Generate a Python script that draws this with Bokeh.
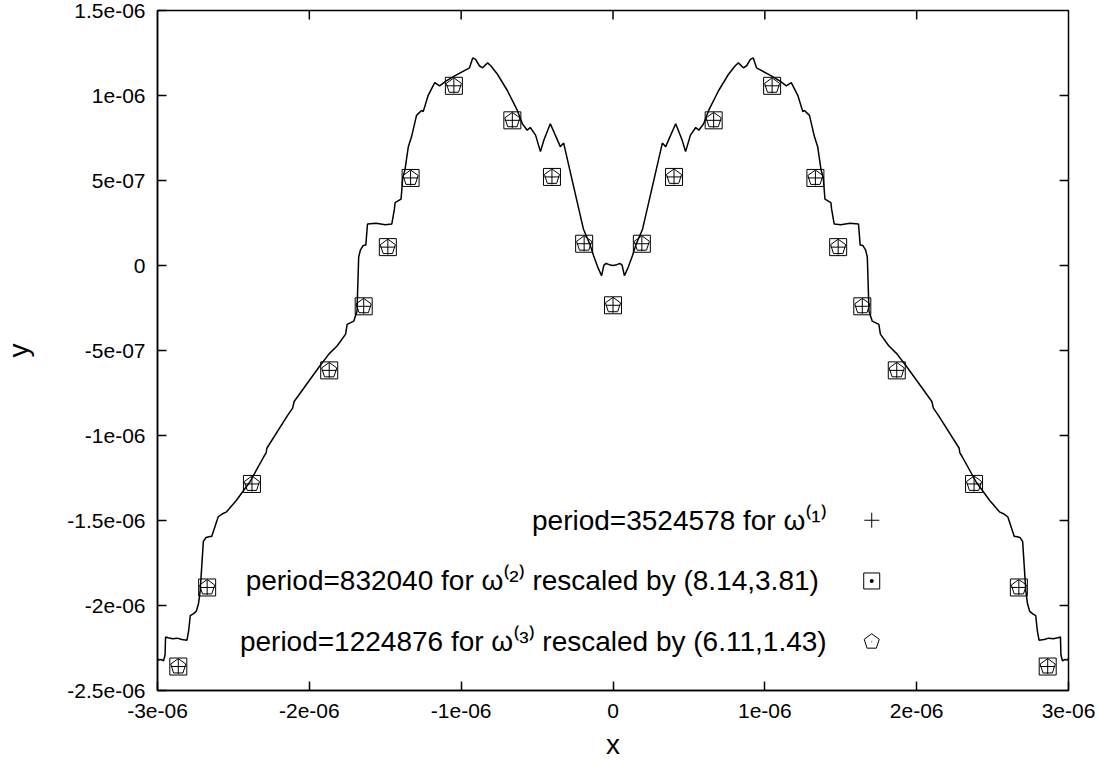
import numpy as np
from bokeh.plotting import figure
from bokeh.models import Range1d, FixedTicker, Label
from bokeh.embed import file_html
from bokeh.resources import INLINE

UNIT = 1e-6  # data below are given in units of 1e-6

# dense curve: period=3524578 for omega(1)
curve_x = [
    -3.000, -2.994, -2.975, -2.960, -2.950, -2.947, -2.930, -2.900, -2.870, -2.840,
    -2.806, -2.795, -2.784, -2.765, -2.745, -2.730, -2.719, -2.705, -2.698, -2.680,
    -2.655, -2.643, -2.625, -2.600, -2.575, -2.545, -2.480, -2.393, -2.300, -2.284,
    -2.280, -2.142, -2.110, -2.100, -1.936, -1.870, -1.816, -1.761, -1.751, -1.707,
    -1.686, -1.675, -1.664, -1.645, -1.628, -1.617, -1.560, -1.500, -1.457, -1.440,
    -1.435, -1.396, -1.385, -1.370, -1.348, -1.327, -1.294, -1.261, -1.250, -1.218,
    -1.174, -1.142, -1.098, -1.043, -0.945, -0.924, -0.905, -0.880, -0.859, -0.826,
    -0.805, -0.761, -0.695, -0.630, -0.597, -0.565, -0.545, -0.510, -0.478, -0.455,
    -0.413, -0.380, -0.347, -0.325, -0.260, -0.195, -0.150, -0.129, -0.097, -0.075,
    -0.060, -0.045, -0.025, 0.000,
    0.025, 0.045, 0.060, 0.075, 0.097, 0.129, 0.150, 0.195, 0.260, 0.325,
    0.347, 0.380, 0.413, 0.455, 0.478, 0.510, 0.545, 0.565, 0.597, 0.630,
    0.695, 0.761, 0.805, 0.826, 0.859, 0.880, 0.905, 0.924, 0.945, 1.043,
    1.098, 1.142, 1.174, 1.218, 1.250, 1.261, 1.294, 1.327, 1.348, 1.370,
    1.385, 1.396, 1.435, 1.440, 1.457, 1.500, 1.560, 1.617, 1.628, 1.645,
    1.664, 1.675, 1.686, 1.707, 1.751, 1.761, 1.816, 1.870, 1.936, 2.100,
    2.110, 2.142, 2.280, 2.284, 2.300, 2.393, 2.480, 2.545, 2.575, 2.600,
    2.625, 2.643, 2.655, 2.680, 2.698, 2.705, 2.719, 2.730, 2.745, 2.765,
    2.784, 2.795, 2.806, 2.840, 2.870, 2.900, 2.930, 2.947, 2.950, 2.960,
    2.975, 2.994, 3.000,
]
curve_y = [
    -2.310, -2.320, -2.318, -2.325, -2.290, -2.185, -2.190, -2.196, -2.192, -2.200,
    -2.204, -2.150, -2.059, -2.049, -2.035, -1.990, -1.914, -1.720, -1.623, -1.600,
    -1.594, -1.594, -1.545, -1.478, -1.462, -1.449, -1.381, -1.275, -1.125, -1.101,
    -1.075, -0.880, -0.839, -0.800, -0.597, -0.520, -0.472, -0.404, -0.346, -0.327,
    -0.269, 0.050, 0.090, 0.118, 0.120, 0.244, 0.248, 0.240, 0.244, 0.330,
    0.370, 0.390, 0.515, 0.564, 0.699, 0.757, 0.883, 0.912, 0.905, 0.999,
    1.076, 1.057, 1.086, 1.115, 1.163, 1.221, 1.212, 1.175, 1.163, 1.192,
    1.175, 1.125, 1.028, 0.912, 0.834, 0.796, 0.812, 0.767, 0.670, 0.738,
    0.834, 0.767, 0.699, 0.720, 0.467, 0.215, 0.120, 0.060, -0.017, -0.060,
    0.002, 0.012, 0.005, 0.000,
    0.005, 0.012, 0.002, -0.060, -0.017, 0.060, 0.120, 0.215, 0.467, 0.720,
    0.699, 0.767, 0.834, 0.738, 0.670, 0.767, 0.812, 0.796, 0.834, 0.912,
    1.028, 1.125, 1.175, 1.192, 1.163, 1.175, 1.212, 1.221, 1.163, 1.115,
    1.086, 1.057, 1.076, 0.999, 0.905, 0.912, 0.883, 0.757, 0.699, 0.564,
    0.515, 0.390, 0.370, 0.330, 0.244, 0.240, 0.248, 0.244, 0.120, 0.118,
    0.090, 0.050, -0.269, -0.327, -0.346, -0.404, -0.472, -0.520, -0.597, -0.800,
    -0.839, -0.880, -1.075, -1.101, -1.125, -1.275, -1.381, -1.449, -1.462, -1.478,
    -1.545, -1.594, -1.594, -1.600, -1.623, -1.720, -1.914, -1.990, -2.035, -2.049,
    -2.059, -2.150, -2.204, -2.200, -2.192, -2.196, -2.190, -2.185, -2.290, -2.325,
    -2.318, -2.320, -2.310,
]

# sampled points (omega(1) "+", omega(2) squares, omega(3) pentagons coincide)
pts_x = [-2.863, -2.673, -2.378, -1.869, -1.642, -1.483, -1.333, -1.048, -0.663, -0.402,
         -0.190, 0.000, 0.190, 0.402, 0.663, 1.048, 1.333, 1.483, 1.642, 1.869,
         2.378, 2.673, 2.863]
pts_y = [-2.359, -1.894, -1.285, -0.617, -0.240, 0.108, 0.515, 1.057, 0.854, 0.521,
         0.128, -0.234, 0.128, 0.521, 0.854, 1.057, 0.515, 0.108, -0.240, -0.617,
         -1.285, -1.894, -2.359]

x_ticks = [-3e-06, -2e-06, -1e-06, 0.0, 1e-06, 2e-06, 3e-06]
x_tick_labels = ["-3e-06", "-2e-06", "-1e-06", "0", "1e-06", "2e-06", "3e-06"]
y_ticks = [-2.5e-06, -2e-06, -1.5e-06, -1e-06, -5e-07, 0.0, 5e-07, 1e-06, 1.5e-06]
y_tick_labels = ["-2.5e-06", "-2e-06", "-1.5e-06", "-1e-06", "-5e-07", "0", "5e-07", "1e-06", "1.5e-06"]

legend_labels = [
    "period=3524578 for \u03c9\u207d\u00b9\u207e",
    "period=832040 for  \u03c9\u207d\u00b2\u207e rescaled by (8.14,3.81)",
    "period=1224876 for \u03c9\u207d\u00b3\u207e rescaled by (6.11,1.43)",
]

FONT = "Liberation Sans"
SHIFT = -8  # pull the figure up into the page margin
W, H = 1100, 770
BL, BR, BT, BB = 149, 32, 18, 69
FW, FH = W - BL - BR, H - BT - BB
FL_PAGE, FT_PAGE = 8 + BL, 8 + SHIFT + BT
X0, X1 = -3e-06, 3e-06
Y0, Y1 = -2.5e-06, 1.5e-06
SX = FW / (X1 - X0)
SY = FH / (Y1 - Y0)
TICK = 9

p = figure(width=W, height=H, output_backend="svg", toolbar_location=None,
           x_range=Range1d(X0, X1), y_range=Range1d(Y0, Y1),
           min_border_left=BL, min_border_right=BR, min_border_top=BT, min_border_bottom=BB,
           x_axis_label="x", y_axis_label="y")
p.styles = {"margin-top": f"{SHIFT}px"}
p.background_fill_color = "white"
p.border_fill_color = "white"
p.outline_line_color = "black"
p.outline_line_width = 1.5
p.xgrid.visible = False
p.ygrid.visible = False


def style_axis(ax, ticks, labels):
    ax.ticker = FixedTicker(ticks=ticks)
    ax.major_label_overrides = {t: l for t, l in zip(ticks, labels)}
    ax.axis_line_color = "black"
    ax.axis_line_width = 1.5
    ax.major_tick_line_color = "black"
    ax.major_tick_line_width = 1.5
    ax.major_tick_in = TICK
    ax.major_tick_out = 0
    ax.minor_tick_line_color = None
    ax.major_label_text_font = FONT
    ax.major_label_text_color = "black"
    ax.major_label_text_font_size = "21px"
    ax.axis_label_text_font = FONT
    ax.axis_label_text_font_size = "28px"
    ax.axis_label_text_font_style = "normal"
    ax.axis_label_text_color = "black"


style_axis(p.xaxis[0], x_ticks, x_tick_labels)
style_axis(p.yaxis[0], y_ticks, y_tick_labels)
p.xaxis[0].major_label_standoff = 13
p.yaxis[0].major_label_standoff = 12
p.xaxis[0].axis_label_standoff = 8
p.yaxis[0].axis_label_standoff = 30

# mirrored inward ticks on the top and right borders
xt = np.array(x_ticks[1:-1])
p.segment(xt, [Y1] * len(xt), xt, [Y1 - TICK / SY] * len(xt), line_color="black", line_width=1.5)
yt = np.array(y_ticks[1:-1])
p.segment([X1] * len(yt), yt, [X1 - TICK / SX] * len(yt), yt, line_color="black", line_width=1.5)

cx = np.array(curve_x) * UNIT
cy = np.array(curve_y) * UNIT
p.line(cx, cy, line_color="black", line_width=1.5)

mx = np.array(pts_x) * UNIT
my = np.array(pts_y) * UNIT

ANG = np.deg2rad([90, 162, 234, 306, 18])


def pentagons(xs, ys, r):
    px, py = [], []
    for a, b in zip(xs, ys):
        px.append(list(a + r * np.cos(ANG) / SX))
        py.append(list(b + r * np.sin(ANG) / SY))
    return px, py


# omega(2) squares, omega(3) pentagons, omega(1) pluses
p.scatter(mx, my, marker="square", size=17, fill_color=None, line_color="black", line_width=1)
pxs, pys = pentagons(mx, my, 8.0)
p.patches(pxs, pys, fill_color=None, line_color="black", line_width=1)
p.scatter(mx, my, marker="cross", size=15, line_color="black", line_width=1)


# key (text right-aligned, symbol on the right), placed at reference page pixels
def page_to_x(px):
    return X0 + (px - FL_PAGE) / SX


def page_to_y(py):
    return Y1 - (py - FT_PAGE) / SY


key_text_x = page_to_x(832)
key_sym_x = page_to_x(877.5)
key_y = [page_to_y(r) for r in (530, 591, 652)]

for lab, yy in zip(legend_labels, key_y):
    p.add_layout(Label(x=key_text_x, y=yy, text=lab, text_align="right", text_baseline="middle",
                       text_font=FONT, text_font_size="28px", text_color="black"))

p.scatter([key_sym_x], [key_y[0]], marker="cross", size=15, line_color="black", line_width=1)
p.scatter([key_sym_x], [key_y[1]], marker="square_dot", size=16, fill_color=None,
          line_color="black", line_width=1)
kpx, kpy = pentagons([key_sym_x], [key_y[2]], 8.0)
p.patches(kpx, kpy, fill_color=None, line_color="black", line_width=1)
p.scatter([key_sym_x], [key_y[2]], marker="dot", size=4, line_color="black", fill_color="black")

open("out.html", "w").write(file_html(p, INLINE))
